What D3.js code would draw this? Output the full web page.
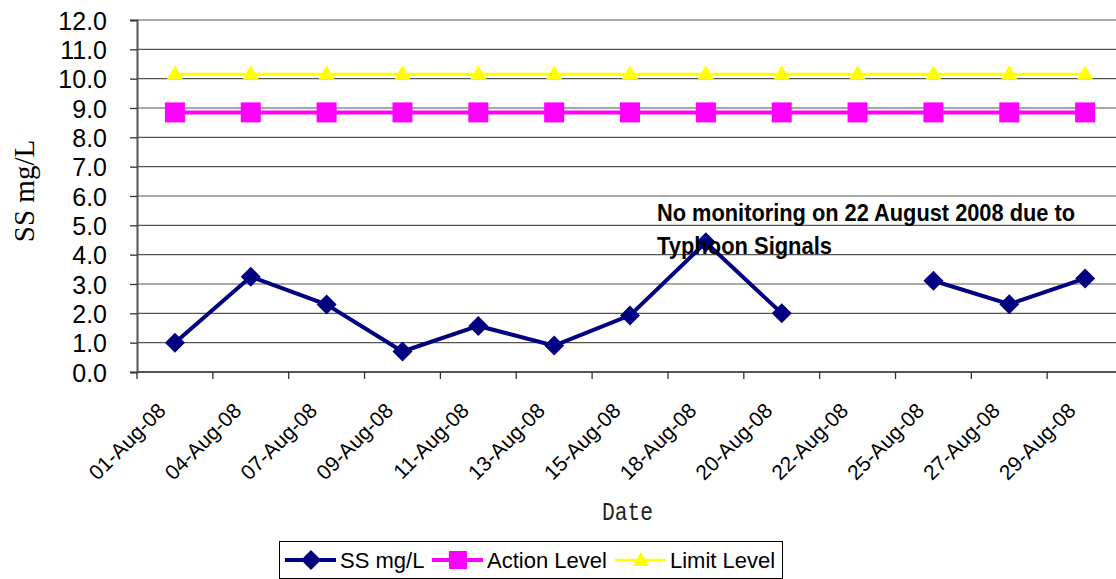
<!DOCTYPE html>
<html lang="en">
<head>
<meta charset="UTF-8">
<title>SS mg/L - August 2008</title>
<script src="https://d3js.org/d3.v7.min.js"></script>
<style>
  body { margin: 0; background: #fff; }
</style>
</head>
<body>
<div id="chart"></div>
<script>
// data
var dates = ["01-Aug-08", "04-Aug-08", "07-Aug-08", "09-Aug-08", "11-Aug-08", "13-Aug-08", "15-Aug-08",
             "18-Aug-08", "20-Aug-08", "22-Aug-08", "25-Aug-08", "27-Aug-08", "29-Aug-08"];
var ssValues = [1.0, 3.25, 2.3, 0.7, 1.57, 0.9, 1.93, 4.42, 2.0, null, 3.11, 2.31, 3.19];
var actionLevel = [8.85, 8.85, 8.85, 8.85, 8.85, 8.85, 8.85, 8.85, 8.85, 8.85, 8.85, 8.85, 8.85];
var limitLevel = [10.15, 10.15, 10.15, 10.15, 10.15, 10.15, 10.15, 10.15, 10.15, 10.15, 10.15, 10.15, 10.15];
var yTicks = [0, 1, 2, 3, 4, 5, 6, 7, 8, 9, 10, 11, 12];
var note = ["No monitoring on 22 August 2008 due to", "Typhoon Signals"];

var width = 1116, height = 579;
var plotLeft = 137, plotTop = 20, plotBottom = 372;
var plotRight = plotLeft + 13 * 75.85; // plot runs past the window edge
var sans = "'Liberation Sans', Arial, sans-serif";

var svg = d3.select("#chart").append("svg")
    .attr("width", width)
    .attr("height", height);

var x = d3.scaleBand().domain(dates).range([plotLeft, plotRight]);
var y = d3.scaleLinear().domain([0, 12]).range([plotBottom, plotTop]);
var cx = function(i){ return x(dates[i]) + x.bandwidth() / 2; };

// gridlines
svg.append("g").selectAll("line")
    .data(yTicks.slice(1))
    .enter().append("line")
    .attr("x1", plotLeft).attr("x2", plotRight)
    .attr("y1", function(d){ return y(d); })
    .attr("y2", function(d){ return y(d); })
    .attr("stroke", "#555")
    .attr("stroke-width", 1.2);

// y axis
var yAxis = svg.append("g")
    .attr("transform", "translate(" + plotLeft + ",0)")
    .call(d3.axisLeft(y).tickValues(yTicks).tickFormat(d3.format(".1f")).tickSize(7).tickPadding(23));
yAxis.select(".domain").attr("stroke", "#555").attr("stroke-width", 2);
yAxis.selectAll(".tick line").attr("stroke", "#333").attr("stroke-width", 1.3);
yAxis.selectAll(".tick text")
    .style("font-family", sans)
    .style("font-size", "25px")
    .attr("fill", "#000")
    .attr("dy", "0.36em");

// x axis: ticks on category boundaries
var xAxis = svg.append("g").attr("transform", "translate(0," + plotBottom + ")");
xAxis.append("line")
    .attr("x1", plotLeft).attr("x2", plotRight)
    .attr("stroke", "#555").attr("stroke-width", 2);
xAxis.selectAll("line.tk")
    .data(dates)
    .enter().append("line")
    .attr("class", "tk")
    .attr("x1", function(d){ return x(d); })
    .attr("x2", function(d){ return x(d); })
    .attr("y1", 0).attr("y2", 7)
    .attr("stroke", "#333").attr("stroke-width", 1.3);
xAxis.selectAll("text")
    .data(dates)
    .enter().append("text")
    .attr("transform", function(d){
        return "translate(" + (x(d) + x.bandwidth() / 2 - 8) + ",40) rotate(-45)";
    })
    .attr("text-anchor", "end")
    .style("font-family", sans)
    .style("font-size", "21px")
    .text(function(d){ return d; });

// axis titles
svg.append("text")
    .attr("transform", "translate(34,191) rotate(-90)")
    .attr("text-anchor", "middle")
    .style("font-family", "'Liberation Serif', 'Times New Roman', serif")
    .style("font-size", "29px")
    .text("SS mg/L");

svg.append("text")
    .attr("x", 602).attr("y", 520)
    .attr("textLength", 51)
    .attr("lengthAdjust", "spacingAndGlyphs")
    .style("font-family", "'Liberation Mono', monospace")
    .style("font-size", "25px")
    .attr("fill", "#222")
    .text("Date");

// series
var line = d3.line()
    .defined(function(d){ return d != null; })
    .x(function(d, i){ return cx(i); })
    .y(function(d){ return y(d); });

svg.append("path").datum(limitLevel)
    .attr("d", line).attr("fill", "none")
    .attr("stroke", "#ffff00").attr("stroke-width", 3);
svg.append("g").selectAll("path")
    .data(limitLevel)
    .enter().append("path")
    .attr("transform", function(d, i){ return "translate(" + cx(i) + "," + (y(d) - 1) + ")"; })
    .attr("d", "M0,-8L8,6L-8,6Z")
    .attr("fill", "#ffff00");

svg.append("path").datum(actionLevel)
    .attr("d", line).attr("fill", "none")
    .attr("stroke", "#ff00ff").attr("stroke-width", 4);
svg.append("g").selectAll("rect")
    .data(actionLevel)
    .enter().append("rect")
    .attr("x", function(d, i){ return cx(i) - 10; })
    .attr("y", function(d){ return y(d) - 10; })
    .attr("width", 20).attr("height", 20)
    .attr("fill", "#ff00ff");

svg.append("path").datum(ssValues)
    .attr("d", line).attr("fill", "none")
    .attr("stroke", "#000080").attr("stroke-width", 4);
var ssPoints = ssValues
    .map(function(v, i){ return { i: i, v: v }; })
    .filter(function(d){ return d.v != null; });
svg.append("g").selectAll("path")
    .data(ssPoints)
    .enter().append("path")
    .attr("transform", function(d){ return "translate(" + cx(d.i) + "," + y(d.v) + ")"; })
    .attr("d", "M0,-10L10,0L0,10L-10,0Z")
    .attr("fill", "#000080");

// annotation
svg.append("g").selectAll("text")
    .data(note)
    .enter().append("text")
    .attr("x", 657)
    .attr("y", function(d, i){ return 221 + i * 33; })
    .style("font-family", "'Liberation Sans Narrow', 'Liberation Sans', Arial, sans-serif")
    .style("font-weight", "bold")
    .style("font-size", "24px")
    .attr("textLength", function(d, i){ return i == 0 ? 418 : 175; })
    .attr("lengthAdjust", "spacingAndGlyphs")
    .text(function(d){ return d; });

// legend
var legend = svg.append("g");
legend.append("rect")
    .attr("x", 279.5).attr("y", 541.5)
    .attr("width", 503).attr("height", 37)
    .attr("fill", "#fff").attr("stroke", "#000").attr("stroke-width", 1);

var legendItems = [
    { name: "SS mg/L", color: "#000080", w: 4, x: 285, shape: "M0,-10L10,0L0,10L-10,0Z" },
    { name: "Action Level", color: "#ff00ff", w: 4, x: 432, shape: "M-9,-9L9,-9L9,9L-9,9Z" },
    { name: "Limit Level", color: "#ffff00", w: 2.5, x: 615, shape: "M0,-8L8,6L-8,6Z" }
];
var li = legend.selectAll("g.item")
    .data(legendItems)
    .enter().append("g")
    .attr("transform", function(d){ return "translate(" + d.x + ",560)"; });
li.append("line")
    .attr("x1", 0).attr("x2", 51)
    .attr("stroke", function(d){ return d.color; })
    .attr("stroke-width", function(d){ return d.w; });
li.append("path")
    .attr("transform", "translate(26,0)")
    .attr("d", function(d){ return d.shape; })
    .attr("fill", function(d){ return d.color; });
li.append("text")
    .attr("x", 55).attr("y", 8)
    .style("font-family", sans)
    .style("font-size", "22px")
    .text(function(d){ return d.name; });
</script>
</body>
</html>
